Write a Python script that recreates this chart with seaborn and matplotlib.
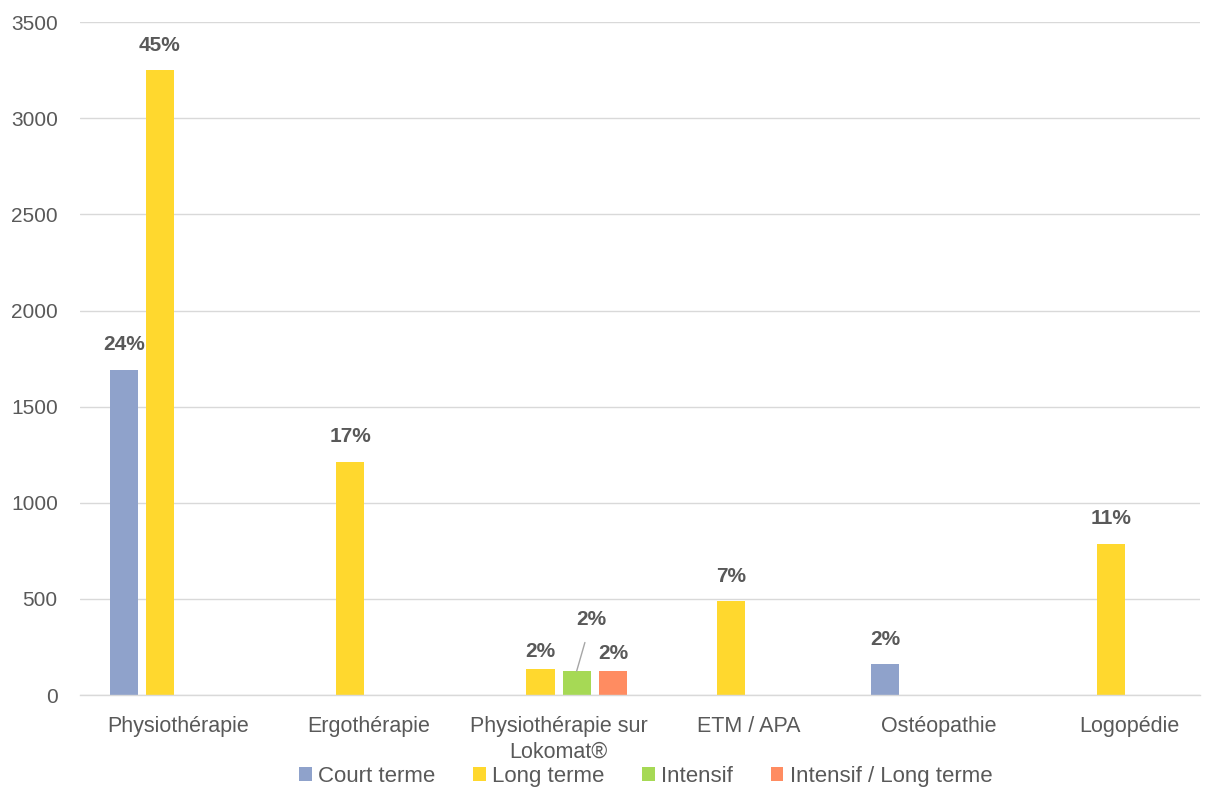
import numpy as np
import pandas as pd
import matplotlib
matplotlib.use("Agg")
import matplotlib.pyplot as plt
import seaborn as sns
from matplotlib.patches import Patch

categories = ["Physiothérapie", "Ergothérapie", "Physiothérapie sur\nLokomat®",
              "ETM / APA", "Ostéopathie", "Logopédie"]
series = ["Court terme", "Long terme", "Intensif", "Intensif / Long terme"]
court_terme = [1693, 0, 0, 0, 161, 0]
long_terme = [3250, 1214, 135, 488, 0, 786]
intensif = [0, 0, 125, 0, 0, 0]
intensif_long = [0, 0, 125, 0, 0, 0]
pct_court = ["24%", "", "", "", "2%", ""]
pct_long = ["45%", "17%", "2%", "7%", "", "11%"]
pct_intensif = ["", "", "2%", "", "", ""]
pct_intensif_long = ["", "", "2%", "", "", ""]
colors = ["#8FA2CB", "#FFD82E", "#A6D955", "#FF8C61"]

rows = []
for s, vals, pcts in zip(series, [court_terme, long_terme, intensif, intensif_long],
                         [pct_court, pct_long, pct_intensif, pct_intensif_long]):
    for c, v, p in zip(categories, vals, pcts):
        rows.append({"categorie": c, "serie": s, "val": v, "pct": p})
df = pd.DataFrame(rows)

sns.set_theme(style="white")
plt.rcParams['font.family'] = ['Liberation Sans', 'DejaVu Sans']

fig = plt.figure(figsize=(12.12, 7.89), dpi=100)
ax = fig.add_axes([0.066, 0.119, 0.924, 0.853])

sns.barplot(data=df, x="categorie", y="val", hue="serie", hue_order=series,
            palette=colors, width=0.76, gap=0.22, dodge=True, ax=ax,
            legend=False, saturation=1, errorbar=None, linewidth=0)

ax.set_ylim(0, 3500)
ax.set_xlim(-0.515, 5.37)
ax.set_yticks(np.arange(0, 3501, 500))
ax.yaxis.grid(True, color="#D9D9D9", linewidth=1)
ax.set_axisbelow(True)
for sp in ["top", "right", "left"]:
    ax.spines[sp].set_visible(False)
ax.spines["bottom"].set_color("#D9D9D9")
ax.spines["bottom"].set_linewidth(1)
ax.tick_params(axis="y", length=0, labelsize=15, colors="#595959", pad=16)
ax.tick_params(axis="x", length=0, labelsize=15.5, colors="#595959", pad=15)
for lab in ax.get_xticklabels():
    lab.set_linespacing(1.3)
ax.set_xlabel("")
ax.set_ylabel("")

# labels
for container, s in zip(ax.containers, series):
    sub = df[df.serie == s].reset_index(drop=True)
    for bar, cat, pct in zip(container, sub["categorie"], sub["pct"]):
        if not pct:
            continue
        x = bar.get_x() + bar.get_width() / 2
        h = bar.get_height()
        lokomat = cat.startswith("Physiothérapie sur")
        if s == "Intensif" and lokomat:
            ax.annotate(pct, xy=(x, h), xytext=(15, 52), textcoords="offset pixels",
                        ha="center", va="center", fontsize=15, fontweight="bold",
                        color="#595959",
                        arrowprops=dict(arrowstyle="-", color="#A6A6A6", lw=1,
                                        shrinkA=8, shrinkB=0))
        else:
            dy = 18 if lokomat else 25
            ax.annotate(pct, xy=(x, h), xytext=(0, dy), textcoords="offset pixels",
                        ha="center", va="center", fontsize=15,
                        fontweight="bold", color="#595959")

handles = [Patch(facecolor=c, edgecolor="none") for c in colors]
fig.legend(handles, series, loc="center", bbox_to_anchor=(0.533, 0.016),
           ncol=4, frameon=False, fontsize=16, labelcolor="#595959",
           handlelength=0.55, handleheight=0.55, handletextpad=0.3, columnspacing=1.7,
           borderpad=0)

fig.savefig("out.png", dpi=100)
